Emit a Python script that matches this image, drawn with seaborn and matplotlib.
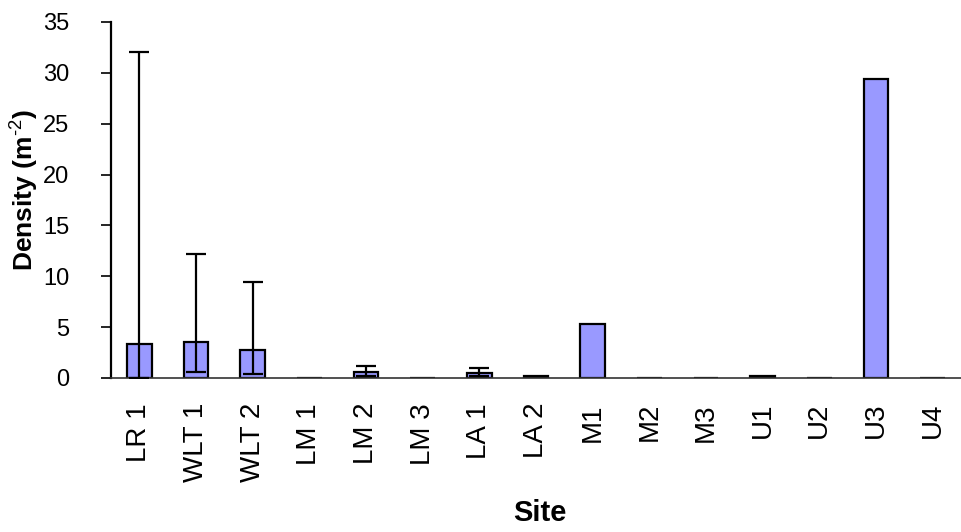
import matplotlib
matplotlib.use("Agg")
import matplotlib.pyplot as plt
import seaborn as sns
import numpy as np
import pandas as pd

sites = ["LR 1", "WLT 1", "WLT 2", "LM 1", "LM 2", "LM 3", "LA 1", "LA 2",
         "M1", "M2", "M3", "U1", "U2", "U3", "U4"]
density = [3.35, 3.55, 2.75, 0.03, 0.6, 0.0, 0.45, 0.15,
           5.3, 0.0, 0.0, 0.15, 0.0, 29.4, 0.0]
lower = [0.0, 0.6, 0.36, np.nan, 0.2, np.nan, 0.22, np.nan,
         np.nan, np.nan, np.nan, np.nan, np.nan, np.nan, np.nan]
upper = [32.05, 12.2, 9.4, np.nan, 1.18, np.nan, 0.95, np.nan,
         np.nan, np.nan, np.nan, np.nan, np.nan, np.nan, np.nan]

sns.set_style("white", {"text.color": "black", "axes.labelcolor": "black",
                        "xtick.color": "black", "ytick.color": "black"})
plt.rcParams["font.family"] = ["Liberation Sans", "DejaVu Sans"]
plt.rcParams["mathtext.fontset"] = "custom"
plt.rcParams["mathtext.rm"] = "Liberation Sans"
plt.rcParams["mathtext.bf"] = "Liberation Sans:bold"

df = pd.DataFrame({"Site": sites, "Density": density})

fig = plt.figure(figsize=(9.61, 5.32), dpi=100)
ax = fig.add_axes([111 / 961, 154 / 532, 850 / 961, 356 / 532])

sns.barplot(data=df, x="Site", y="Density", color="#9999FF", saturation=1,
            width=0.43, edgecolor="black", linewidth=1.6, ax=ax)

pos = np.arange(len(sites))
d = np.array(density)
lo = np.array(lower)
hi = np.array(upper)
mask = ~np.isnan(hi)
ax.errorbar(pos[mask], d[mask], yerr=[d[mask] - lo[mask], hi[mask] - d[mask]],
            fmt="none", ecolor="black", elinewidth=1.6, capsize=7.5,
            capthick=1.6, zorder=5)

ax.set_ylim(0, 35)
ax.set_xlim(-0.5, len(sites) - 0.5)
ax.set_yticks(np.arange(0, 36, 5))
ax.tick_params(axis="y", direction="out", length=7, width=1.2, pad=23,
               labelsize=17, left=True, color="black", labelcolor="black")
ax.set_xticks(pos)
ax.set_xticklabels(sites, rotation=90, fontsize=20, color="black")
ax.tick_params(axis="x", which="major", length=0, pad=18)
ax.set_xticks(np.arange(-0.5, len(sites), 1.0), minor=True)
ax.tick_params(axis="x", which="minor", direction="out", length=6,
               width=1.2, color="#333333")

for side in ["top", "right"]:
    ax.spines[side].set_visible(False)
ax.spines["left"].set_color("black")
ax.spines["left"].set_linewidth(1.6)
ax.spines["bottom"].set_color("#333333")
ax.spines["bottom"].set_linewidth(1.2)

ax.set_xlabel("")
ax.set_ylabel("")
fig.text(25 / 961, 1 - 190 / 532, r"Density (m$\mathbf{^{\text{-2}}}$)",
         rotation=90, ha="center", va="center", fontsize=19,
         fontweight="bold", color="black")
fig.text(540 / 961, 1 - 513 / 532, "Site", ha="center", va="center",
         fontsize=21, fontweight="bold", color="black")

fig.savefig("out.png", dpi=100)
